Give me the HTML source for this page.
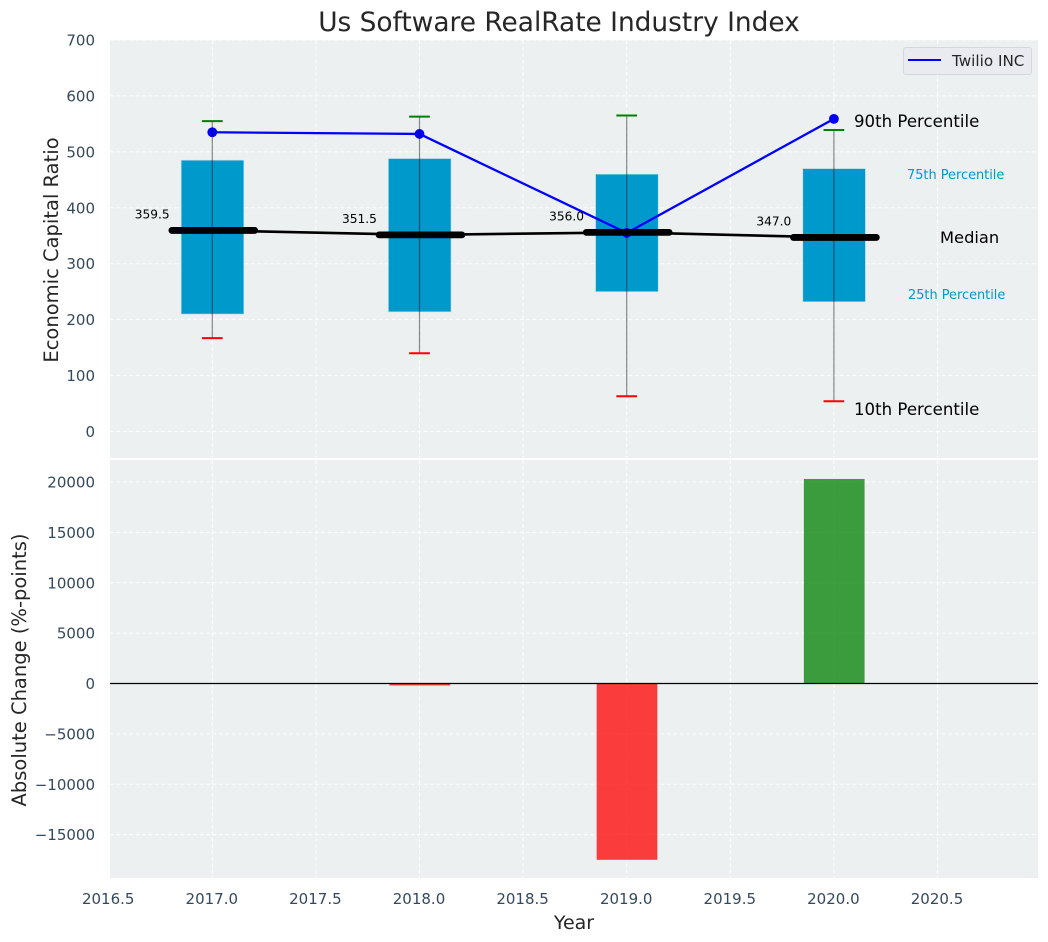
<!DOCTYPE html>
<html>
<head>
<meta charset="utf-8">
<title>Us Software RealRate Industry Index</title>
<style>
html,body{margin:0;padding:0;background:#fff;width:1048px;height:942px;overflow:hidden}
svg{display:block;font-family:"DejaVu Sans","Liberation Sans",sans-serif}
</style>
</head>
<body>
<svg id="chart" xmlns="http://www.w3.org/2000/svg" width="1048" height="942" viewBox="0 0 1048 942"></svg>
<script>
const years = [2017, 2018, 2019, 2020];
const p10 = [167, 140, 63, 54];
const p25 = [210, 214, 250, 232];
const medians = [359.5, 351.5, 356.0, 347.0];
const p75 = [485, 488, 460, 470];
const p90 = [555, 563, 565, 539];
const twilio = [535, 532, 355, 559];
const changes = [0, -200, -17500, 20300];
const xTicks = [2016.5, 2017.0, 2017.5, 2018.0, 2018.5, 2019.0, 2019.5, 2020.0, 2020.5];
const yTicksTop = [0, 100, 200, 300, 400, 500, 600, 700];
const yTicksBottom = [-15000, -10000, -5000, 0, 5000, 10000, 15000, 20000];

const svg = document.getElementById('chart');
const NS = 'http://www.w3.org/2000/svg';
const X = v => 212.3 + (v - 2017) * 207.2;
const YT = v => 431.5 - v * 0.5593;
const YB = v => 683.5 - v * 0.010075;
const PL = 110, PR = 1038;
const TOP0 = 40, TOP1 = 458, BOT0 = 460, BOT1 = 878;

function mk(tag, attrs, text) {
  const el = document.createElementNS(NS, tag);
  for (const k in attrs) el.setAttribute(k, attrs[k]);
  if (text !== undefined) el.textContent = text;
  svg.appendChild(el);
  return el;
}
const fmt = v => String(v).replace('-', '\u2212');
const GRID = {stroke: '#ffffff', 'stroke-width': 1, 'stroke-dasharray': '4 2.4', fill: 'none', opacity: 0.9};
const TICK = {fill: '#34495e', 'font-size': '15'};

/* panels */
let el = mk('rect', {x: PL, y: TOP0, width: PR - PL, height: TOP1 - TOP0, fill: '#ecf0f1'});


el = mk('rect', {x: PL, y: BOT0, width: PR - PL, height: BOT1 - BOT0, fill: '#ecf0f1'});



/* grid */
xTicks.forEach(t => {
  if (X(t) < PL) return;
  el = mk('line', Object.assign({x1: X(t), x2: X(t), y1: TOP0, y2: TOP1}, GRID));
  
  
  el = mk('line', Object.assign({x1: X(t), x2: X(t), y1: BOT0, y2: BOT1}, GRID));
  
  
});
yTicksTop.forEach(t => {
  el = mk('line', Object.assign({x1: PL, x2: PR, y1: YT(t), y2: YT(t)}, GRID));
  
  
  el = mk('text', Object.assign({x: 95, y: YT(t) + 5.5, 'text-anchor': 'end'}, TICK), fmt(t));
  
  
});
yTicksBottom.forEach(t => {
  el = mk('line', Object.assign({x1: PL, x2: PR, y1: YB(t), y2: YB(t)}, GRID));
  
  
  el = mk('text', Object.assign({x: 95, y: YB(t) + 5.5, 'text-anchor': 'end'}, TICK), fmt(t));
  
  
});
xTicks.forEach(t => {
  el = mk('text', Object.assign({x: X(t) - 0.5, y: 904, 'text-anchor': 'middle'}, TICK), t.toFixed(1));
  
  
});

/* boxes */
years.forEach((yr, i) => {
  el = mk('rect', {x: X(yr - 0.15), width: X(yr + 0.152) - X(yr - 0.15), y: YT(p75[i]), height: YT(p25[i]) - YT(p75[i]), fill: '#0099cc', stroke: '#b5dbe9', 'stroke-width': 0.6});
  
  
});

/* Twilio line */
el = mk('polyline', {points: years.map((yr, i) => X(yr) + ',' + YT(twilio[i])).join(' '), fill: 'none', stroke: '#0000ff', 'stroke-width': 2.3});


years.forEach((yr, i) => {
  el = mk('circle', {cx: X(yr), cy: YT(twilio[i]), r: 4.9, fill: '#0000ff'});
  
  
});

/* median connector and bars */
el = mk('polyline', {points: years.map((yr, i) => X(yr) + ',' + YT(medians[i])).join(' '), fill: 'none', stroke: '#000000', 'stroke-width': 2.6});


years.forEach((yr, i) => {
  el = mk('line', {x1: X(yr - 0.2) + 1, x2: X(yr + 0.2) + 1, y1: YT(medians[i]), y2: YT(medians[i]), stroke: '#000000', 'stroke-width': 6.8, 'stroke-linecap': 'round'});
  
  
  el = mk('text', {x: X(yr - 0.29), y: YT(medians[i]) - 12, 'text-anchor': 'middle', 'font-size': '12.2', fill: '#000000'}, medians[i].toFixed(1));
  
  
});

/* whiskers */
years.forEach((yr, i) => {
  el = mk('line', {x1: X(yr), x2: X(yr), y1: YT(p90[i]), y2: YT(p10[i]), stroke: '#000000', 'stroke-width': 1.2, opacity: 0.45});
  
  
  el = mk('line', {x1: X(yr - 0.05), x2: X(yr + 0.05), y1: YT(p90[i]), y2: YT(p90[i]), stroke: '#008000', 'stroke-width': 2});
  
  
  el = mk('line', {x1: X(yr - 0.05), x2: X(yr + 0.05), y1: YT(p10[i]), y2: YT(p10[i]), stroke: '#ff0000', 'stroke-width': 2});
  
  
});

/* change bars */
years.forEach((yr, i) => {
  const v = changes[i];
  if (v === 0) return;
  const y0 = Math.min(YB(v), YB(0)), y1 = Math.max(YB(v), YB(0));
  el = mk('rect', {x: X(yr - 0.145), width: X(yr + 0.148) - X(yr - 0.145), y: y0, height: y1 - y0, fill: v < 0 ? '#ff0000' : '#008000', opacity: 0.75});
  
  
});
el = mk('line', {x1: PL, x2: PR, y1: YB(0), y2: YB(0), stroke: '#000000', 'stroke-width': 1.2});


</script>
<script>
/* static labels */
(function () {
  function t(name, attrs, str) {
    const e = document.createElementNS('http://www.w3.org/2000/svg', 'text');
    for (const k in attrs) e.setAttribute(k, attrs[k]);
    e.textContent = str;
    
    
    document.getElementById('chart').appendChild(e);
  }
  t('chart-title', {x: 559, y: 31, 'text-anchor': 'middle', 'font-size': '26.4', fill: '#262626'}, 'Us Software RealRate Industry Index');
  t('top-y-axis-title', {x: 0, y: 0, transform: 'translate(58,250) rotate(-90)', 'text-anchor': 'middle', 'font-size': '19.5', fill: '#262626'}, 'Economic Capital Ratio');
  t('bottom-y-axis-title', {x: 0, y: 0, transform: 'translate(26,670) rotate(-90)', 'text-anchor': 'middle', 'font-size': '19.5', fill: '#262626'}, 'Absolute Change (%-points)');
  t('x-axis-title', {x: 574, y: 929, 'text-anchor': 'middle', 'font-size': '19', fill: '#262626'}, 'Year');
  t('p90-annotation', {x: 854, y: 127, 'font-size': '16.6', fill: '#000000'}, '90th Percentile');
  t('p10-annotation', {x: 854, y: 415, 'font-size': '16.6', fill: '#000000'}, '10th Percentile');
  t('median-annotation', {x: 940, y: 243, 'font-size': '16.3', fill: '#000000'}, 'Median');
  t('p75-annotation', {x: 907, y: 179, 'font-size': '12.9', fill: '#0099cc'}, '75th Percentile');
  t('p25-annotation', {x: 908, y: 299, 'font-size': '12.9', fill: '#0099cc'}, '25th Percentile');
})();
</script>
<script>
/* legend */
(function () {
  const svg = document.getElementById('chart');
  const NS = 'http://www.w3.org/2000/svg';
  const g = document.createElementNS(NS, 'g');
  
  
  const r = document.createElementNS(NS, 'rect');
  r.setAttribute('x', 903.5);
  r.setAttribute('y', 47.5);
  r.setAttribute('width', 128);
  r.setAttribute('height', 27);
  r.setAttribute('rx', 2.5);
  r.setAttribute('fill', '#e9ebf1');
  r.setAttribute('stroke', '#d5d7da');
  
  
  g.appendChild(r);
  const l = document.createElementNS(NS, 'line');
  l.setAttribute('x1', 908);
  l.setAttribute('x2', 941);
  l.setAttribute('y1', 60);
  l.setAttribute('y2', 60);
  l.setAttribute('stroke', '#0000ff');
  l.setAttribute('stroke-width', 2);
  
  
  g.appendChild(l);
  const t = document.createElementNS(NS, 'text');
  t.setAttribute('x', 952);
  t.setAttribute('y', 66);
  t.setAttribute('font-size', '15.2');
  t.setAttribute('fill', '#262626');
  
  
  t.textContent = 'Twilio INC';
  g.appendChild(t);
  svg.appendChild(g);
})();
</script>
</body>
</html>
